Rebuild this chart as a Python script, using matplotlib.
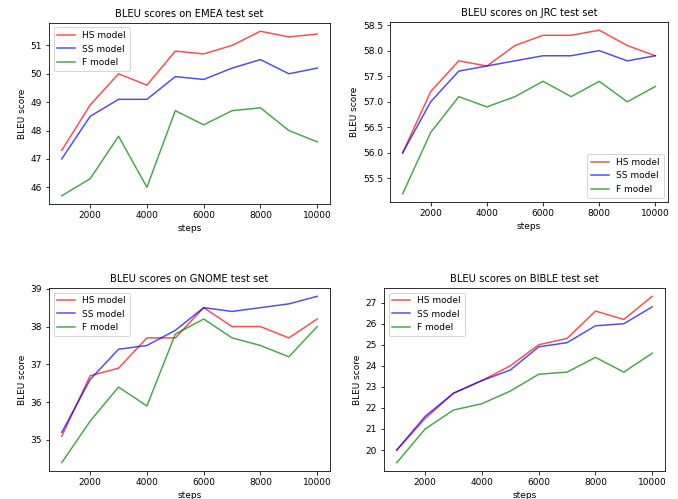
import matplotlib
matplotlib.use("Agg")
import matplotlib.pyplot as plt

steps = [1000, 2000, 3000, 4000, 5000, 6000, 7000, 8000, 9000, 10000]

emea_hs = [47.3, 48.9, 50.0, 49.6, 50.8, 50.7, 51.0, 51.5, 51.3, 51.4]
emea_ss = [47.0, 48.5, 49.1, 49.1, 49.9, 49.8, 50.2, 50.5, 50.0, 50.2]
emea_f = [45.7, 46.3, 47.8, 46.0, 48.7, 48.2, 48.7, 48.8, 48.0, 47.6]

jrc_hs = [56.0, 57.2, 57.8, 57.7, 58.1, 58.3, 58.3, 58.4, 58.1, 57.9]
jrc_ss = [56.0, 57.0, 57.6, 57.7, 57.8, 57.9, 57.9, 58.0, 57.8, 57.9]
jrc_f = [55.2, 56.4, 57.1, 56.9, 57.1, 57.4, 57.1, 57.4, 57.0, 57.3]

gnome_hs = [35.1, 36.7, 36.9, 37.7, 37.7, 38.5, 38.0, 38.0, 37.7, 38.2]
gnome_ss = [35.2, 36.6, 37.4, 37.5, 37.9, 38.5, 38.4, 38.5, 38.6, 38.8]
gnome_f = [34.4, 35.5, 36.4, 35.9, 37.8, 38.2, 37.7, 37.5, 37.2, 38.0]

bible_hs = [20.0, 21.5, 22.7, 23.3, 24.0, 25.0, 25.3, 26.6, 26.2, 27.3]
bible_ss = [20.0, 21.6, 22.7, 23.3, 23.8, 24.9, 25.1, 25.9, 26.0, 26.8]
bible_f = [19.4, 21.0, 21.9, 22.2, 22.8, 23.6, 23.7, 24.4, 23.7, 24.6]

labels = ["HS model", "SS model", "F model"]
colors = ["red", "blue", "green"]

panels = [
    ("EMEA", [emea_hs, emea_ss, emea_f], "upper left", [49, 23, 330, 204]),
    ("JRC", [jrc_hs, jrc_ss, jrc_f], "lower right", [390, 22, 668, 202]),
    ("GNOME", [gnome_hs, gnome_ss, gnome_f], "upper left", [49, 288, 330, 471]),
    ("BIBLE", [bible_hs, bible_ss, bible_f], "upper left", [384, 288, 665, 471]),
]

W, H = 678, 499
fig = plt.figure(figsize=(W / 72, H / 72), dpi=72)
for name, series, loc, (l, t, r, b) in panels:
    ax = fig.add_axes([l / W, 1 - b / H, (r - l) / W, (b - t) / H])
    for s, lab, c in zip(series, labels, colors):
        ax.plot(steps, s, color=c, alpha=0.7, label=lab, linewidth=1.5)
    ax.set_title(f"BLEU scores on {name} test set", fontsize=10)
    ax.set_xlabel("steps", fontsize=9)
    ax.set_ylabel("BLEU score", fontsize=9)
    ax.tick_params(labelsize=9)
    ax.set_xticks([2000, 4000, 6000, 8000, 10000])
    ax.legend(loc=loc, fontsize=9)

fig.savefig("out.png", dpi=72)
